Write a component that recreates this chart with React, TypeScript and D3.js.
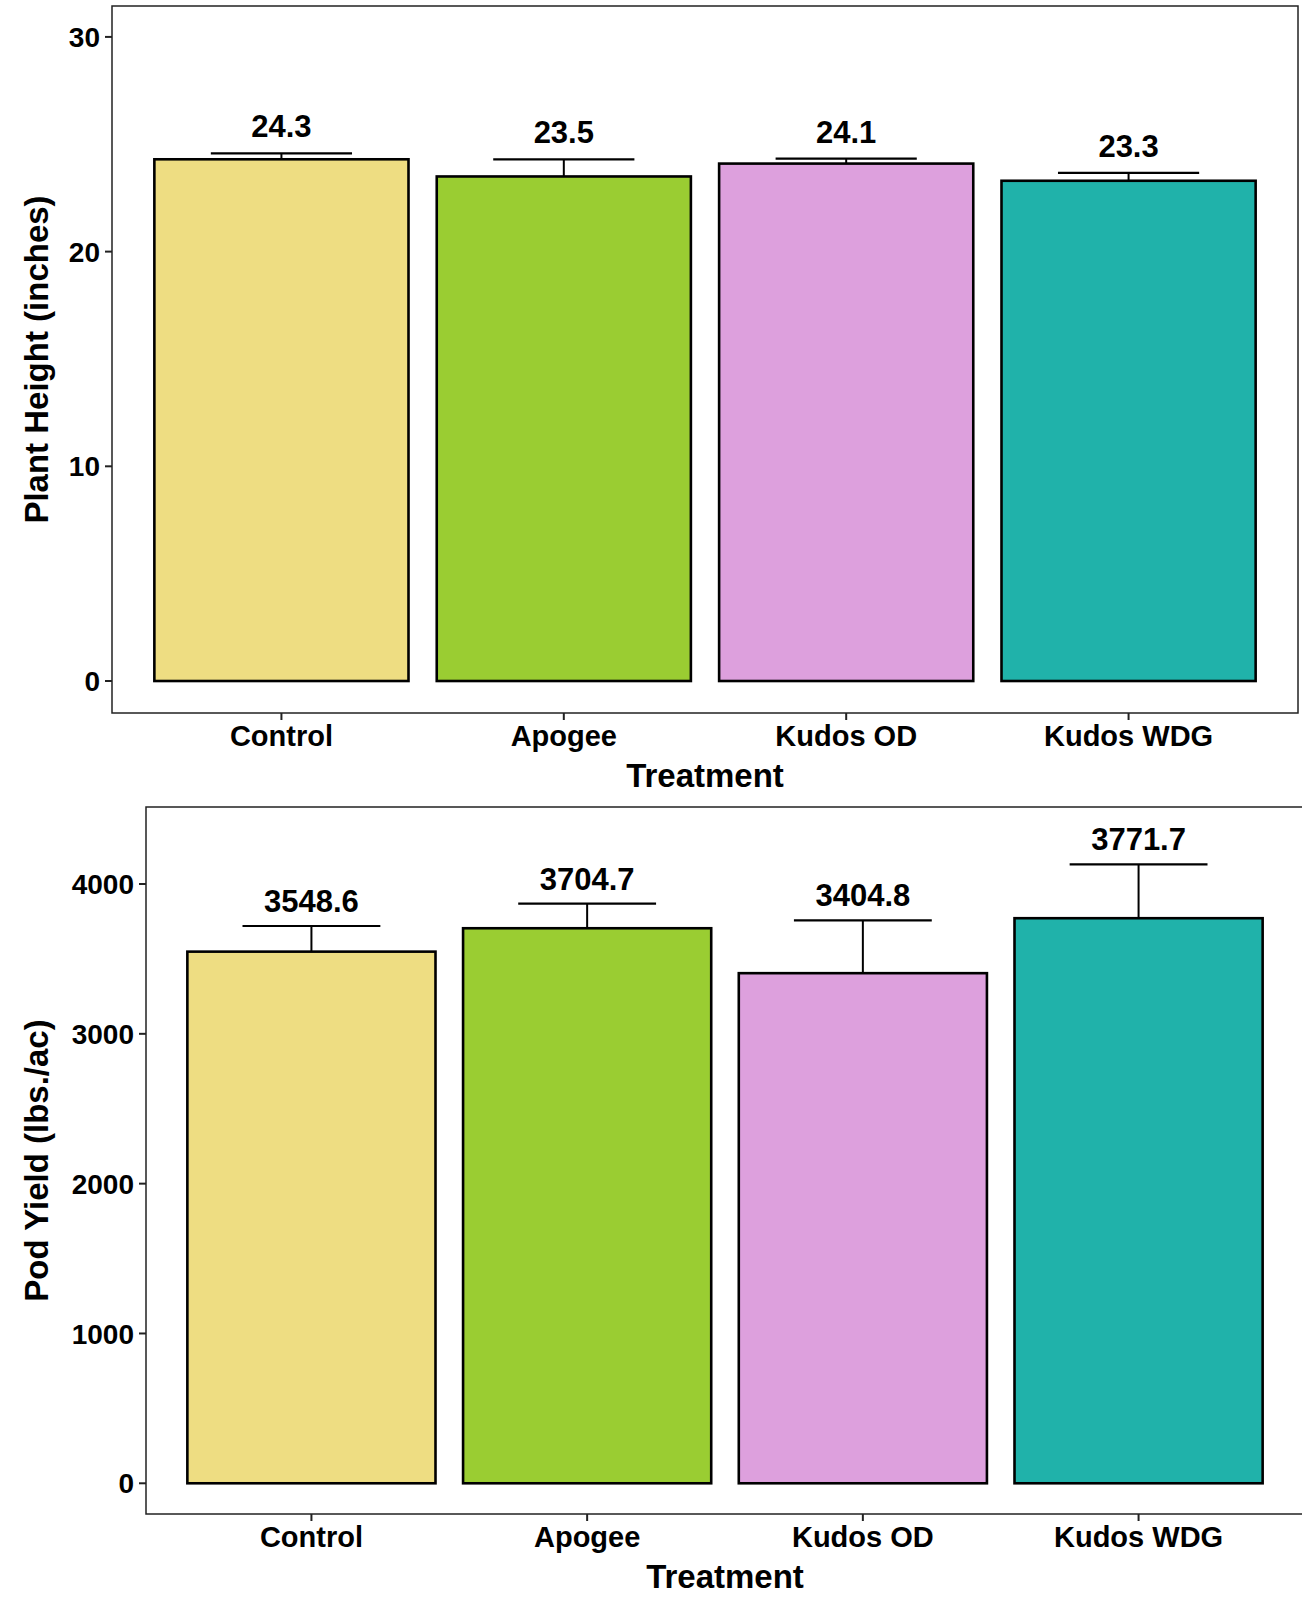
import * as React from 'react';
import * as d3 from 'd3';

// chart values
const treatments = ['Control', 'Apogee', 'Kudos OD', 'Kudos WDG'];
const heightMeans = [24.3, 23.5, 24.1, 23.3];
const heightSE = [0.28, 0.8, 0.23, 0.37];
const heightTicks = [0, 10, 20, 30];
const yieldMeans = [3548.6, 3704.7, 3404.8, 3771.7];
const yieldSE = [171, 164, 353, 360];
const yieldTicks = [0, 1000, 2000, 3000, 4000];

const barColors = ['#EEDD82', '#9ACD32', '#DDA0DD', '#20B2AA'];
const font = '"Liberation Sans", Arial, Helvetica, sans-serif';

interface PanelProps {
    means: number[],
    errors: number[],
    ticks: number[],
    domain: [number, number],
    box: { left: number, right: number, top: number, bottom: number },
    yTitle: string,
    labelGap: number,
}

function Panel(p: PanelProps) {
    const b = p.box;
    const x = d3.scaleBand<string>()
        .domain(treatments)
        .range([b.left, b.right])
        .paddingInner(0.1)
        .paddingOuter(0.15);
    const y = d3.scaleLinear()
        .domain(p.domain)
        .range([b.bottom, b.top]);
    const step = x.step();
    const fmt = d3.format('.1f');

    return <g>
        <rect x={b.left} y={b.top} width={b.right - b.left} height={b.bottom - b.top}
            fill="none" stroke="#222" strokeWidth={1.5} />
        {treatments.map((t, i) => {
            const cx = (x(t) || 0) + x.bandwidth() / 2;
            const top = y(p.means[i] + p.errors[i]);
            return <g key={t}>
                <line x1={cx} x2={cx} y1={y(p.means[i])} y2={top} stroke="#000" strokeWidth={2} />
                <line x1={cx - step * 0.25} x2={cx + step * 0.25} y1={top} y2={top} stroke="#000" strokeWidth={2.2} />
                <rect x={x(t)} y={y(p.means[i])} width={x.bandwidth()} height={y(0) - y(p.means[i])}
                    fill={barColors[i]} stroke="#000" strokeWidth={2.6} />
                <text x={cx} y={top - p.labelGap} textAnchor="middle" fontFamily={font}
                    fontWeight="bold" fontSize={31}>{fmt(p.means[i])}</text>
                <line x1={cx} x2={cx} y1={b.bottom} y2={b.bottom + 7} stroke="#222" strokeWidth={2} />
                <text x={cx} y={b.bottom + 33} textAnchor="middle" fontFamily={font}
                    fontWeight="bold" fontSize={29}>{t}</text>
            </g>;
        })}
        {p.ticks.map(v => <g key={v}>
            <line x1={b.left - 7} x2={b.left} y1={y(v)} y2={y(v)} stroke="#222" strokeWidth={2} />
            <text x={b.left - 12} y={y(v)} dy="0.36em" textAnchor="end" fontFamily={font}
                fontWeight="bold" fontSize={28}>{v}</text>
        </g>)}
        <text x={(b.left + b.right) / 2} y={b.bottom + 74} textAnchor="middle" fontFamily={font}
            fontWeight="bold" fontSize={33}>Treatment</text>
        <text transform={`translate(48,${(b.top + b.bottom) / 2}) rotate(-90)`} textAnchor="middle"
            fontFamily={font} fontWeight="bold" fontSize={33}>{p.yTitle}</text>
    </g>;
}

export default function App() {
    return <svg width={1302} height={1600}
        style={{ position: 'absolute', left: 0, top: 0, background: '#fff' }}>
        <rect x={0} y={0} width={1302} height={1600} fill="#fff" />
        <Panel means={heightMeans} errors={heightSE} ticks={heightTicks}
            domain={[-1.49, 31.44]}
            box={{ left: 112, right: 1298, top: 6, bottom: 713 }}
            yTitle="Plant Height (inches)" labelGap={16} />
        <Panel means={yieldMeans} errors={yieldSE} ticks={yieldTicks}
            domain={[-205, 4514]}
            box={{ left: 146, right: 1304, top: 807, bottom: 1514 }}
            yTitle="Pod Yield (lbs./ac)" labelGap={14} />
    </svg>;
}
